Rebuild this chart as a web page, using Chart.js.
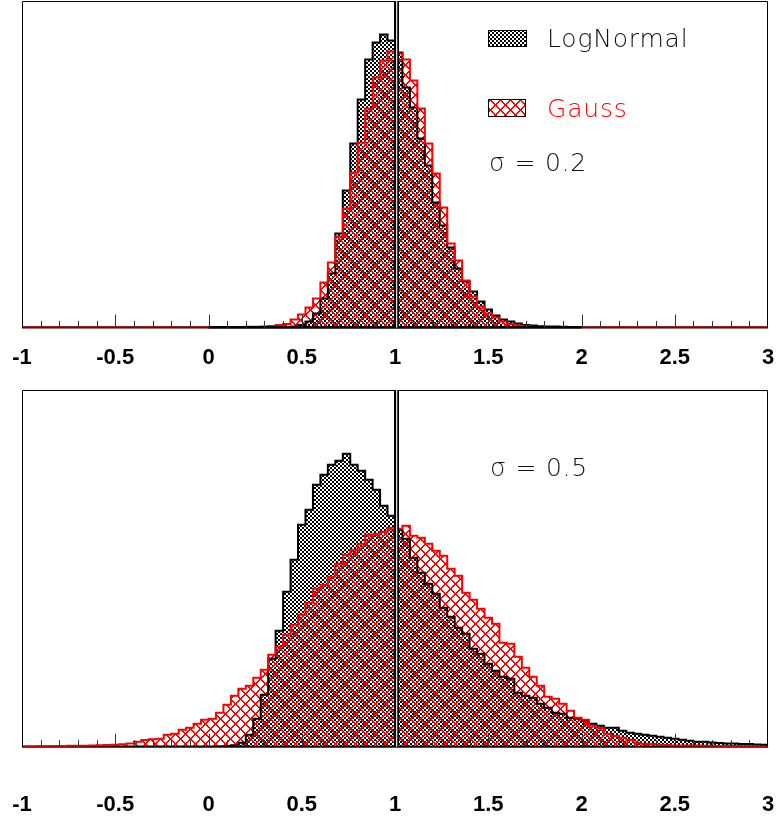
<!DOCTYPE html>
<html><head><meta charset="utf-8">
<script src="https://cdn.jsdelivr.net/npm/chart.js@4.4.1/dist/chart.umd.min.js"></script>
<style>
html,body{margin:0;padding:0;background:#fff;}
#wrap{position:relative;width:777px;height:819px;overflow:hidden;background:#fff;}
.pane{position:absolute;left:0;width:777px;}
.t{position:absolute;font-family:"DejaVu Sans";font-weight:200;font-size:25px;line-height:25px;white-space:nowrap;color:#111;letter-spacing:0.8px;}
</style></head><body>
<div id="wrap">
  <div class="pane" style="top:0;height:389px"><canvas id="c1" width="777" height="389"></canvas></div>
  <div class="pane" style="top:389px;height:430px"><canvas id="c2" width="777" height="430"></canvas></div>
  <div class="t" id="lg1" style="left:547px;top:26px"></div>
  <div class="t" id="lg2" style="left:547px;top:96px;color:#ff0000"></div>
  <div class="t" id="sg1" style="left:489px;top:149.5px"></div>
  <div class="t" id="sg2" style="left:490px;top:454.5px"></div>
</div>
<script>
// ---- data ----
const xMin = -1, xMax = 3, binWidth = 0.04;          // 100 bins
const tickLabels = ['-1','-0.5','0','0.5','1','1.5','2','2.5','3'];
const seriesNames = ['LogNormal','Gauss'];
const sigmaLabels = ['\u03C3 = 0.2','\u03C3 = 0.5'];

const logNormalTop = [
  0,0,0,0,0,0,0,0,0,0,
  0,0,0,0,0,0,0,0,0,0,
  0,0,0,0,0,0,0,0,0,0,
  0,0,0,0,0,0,1,2.5,6,14,
  29,54,94,137,184,228,268,285,293,287,
  275,240,220,189,162,125,102,80,59,46,
  36,26,18,12,8,6,4,2.5,2,1.3,
  1,1,0.7,0.5,0.3,0,0,0,0,0,
  0,0,0,0,0,0,0,0,0,0,
  0,0,0,0,0,0,0,0,0,0];
const gaussTop = [
  0,0,0,0,0,0,0,0,0,0,
  0,0,0,0,0,0,0,0,0,0,
  0,0,0,0,0,0,0,0,0,0.5,
  0.7,0.7,1,1.5,2.5,3.5,8,13,20,29,
  45,65,91,119,155,185,219,250,267,276,
  274,268,247,219,184,154,120,84,67,47,
  31,21,14,10,6,3.5,2.3,1.3,0.7,0.3,
  0,0,0,0,0,0,0,0,0,0,
  0,0,0,0,0,0,0,0,0,0,
  0,0,0,0,0,0,0,0,0,0];
const logNormalBottom = [
  0,0,0,0,0,0,0,0,0,0,
  0,0,0,0,0,0,0,0,0,0,
  0,0,0,0,0,0,0.3,0.7,1.5,4,
  12,28,52,88,116,155,187,222,237,262,
  272,282,286,293,282,276,267,257,241,231,
  217,208,189,174,163,153,139,130,119,113,
  98,93,83,76,70,68,54,51,49,43,
  39,34,33,29,28,26,23,21,19,19,
  16,14,13,12,11,10,9,8,7,6,
  5,5,4.3,3.7,3.3,3.3,2.7,2.7,2.3,2];
const gaussBottom = [
  0.3,0.3,0.5,0.5,0.7,0.7,1,1,1,1.3,
  1.5,1.7,2,2.5,3.3,5,6.7,7.5,8,12,
  13,17,19,23,27,28,34,42,51,58,
  61,69,77,92,100,112,122,132,144,158,
  162,170,183,192,197,203,212,213,215,219,
  218,221,211,209,203,196,191,178,171,154,
  147,138,129,123,104,103,90,79,70,61,
  50,48,43,36,29,27,21,19,13,11,
  9,7,4,3,2.7,2,1.7,1.3,1.3,1.3,
  1.3,1,1,0.7,0.7,0.7,0.5,0.5,0.3,0.3];

// ---- text ----
document.getElementById('lg1').textContent = seriesNames[0];
document.getElementById('lg2').textContent = seriesNames[1];
document.getElementById('sg1').textContent = sigmaLabels[0];
document.getElementById('sg2').textContent = sigmaLabels[1];

function histPoints(vals){
  const pts = [{x:xMin, y:0}];
  vals.forEach((v,i)=>{
    const a = xMin + i*binWidth, b = xMin + (i+1)*binWidth;
    pts.push({x:a, y:v}, {x:b, y:v});
  });
  pts.push({x:xMax, y:0});
  return pts;
}
function checkerPattern(ctx){
  const c = document.createElement('canvas'); c.width = 4; c.height = 4;
  const g = c.getContext('2d');
  g.fillStyle = '#fff'; g.fillRect(0,0,4,4);
  g.fillStyle = '#000'; g.fillRect(0,0,2,2); g.fillRect(2,2,2,2);
  return ctx.createPattern(c,'repeat');
}
function hatchPattern(ctx){
  const c = document.createElement('canvas'); c.width = 10; c.height = 10;
  const g = c.getContext('2d');
  g.fillStyle = '#ff0000';
  for (let k=0;k<10;k++){
    g.fillRect(k,k,1,1); g.fillRect((k+1)%10,k,1,1);
    g.fillRect(9-k,k,1,1); g.fillRect((10-k)%10,k,1,1);
  }
  return ctx.createPattern(c,'repeat');
}

function framePlugin(withLegend, pChecker, pHatch, blackBase){
  return {
    id:'rootFrame',
    beforeDatasetsDraw(chart){
      const {ctx, chartArea:a} = chart;
      ctx.save(); ctx.fillStyle = '#000';
      ctx.fillRect(a.left, a.bottom-1, a.right-a.left, 2);
      ctx.restore();
    },
    afterDatasetsDraw(chart){
      const {ctx, chartArea:a, scales:{x}} = chart;
      ctx.save();
      if (blackBase){
        const b0 = x.getPixelForValue(blackBase[0]), b1 = x.getPixelForValue(blackBase[1]);
        ctx.fillStyle = '#000'; ctx.fillRect(b0, a.bottom-1.5, b1-b0, 2.5);
      }
      ctx.strokeStyle = '#333'; ctx.lineWidth = 1;
      for (let k=1;k<40;k++){
        const v = xMin + k*0.1;
        const px = Math.round(x.getPixelForValue(v)) + 0.5;
        const len = (k%5===0) ? 13 : 6.5;
        ctx.beginPath(); ctx.moveTo(px, a.bottom); ctx.lineTo(px, a.bottom-len); ctx.stroke();
      }
      ctx.strokeStyle = '#000';
      ctx.beginPath();
      ctx.moveTo(a.left+0.5, a.bottom); ctx.lineTo(a.left+0.5, a.top+0.5);
      ctx.lineTo(a.right-0.5, a.top+0.5); ctx.lineTo(a.right-0.5, a.bottom);
      ctx.stroke();
      const p1 = x.getPixelForValue(1);
      ctx.fillStyle = '#000'; ctx.fillRect(p1-1, a.top, 5, a.bottom-a.top);
      ctx.fillStyle = '#ddd'; ctx.fillRect(p1+1, a.top, 1.3, a.bottom-a.top);
      if (withLegend){
        ctx.fillStyle = pChecker; ctx.fillRect(488,30,39,17);
        ctx.strokeStyle = '#000'; ctx.lineWidth = 1; ctx.strokeRect(488.5,30.5,38,16);
        ctx.fillStyle = '#fff'; ctx.fillRect(488,99,38,18);
        ctx.fillStyle = pHatch; ctx.fillRect(488,99,38,18);
        ctx.strokeRect(488.5,99.5,37,17);
      }
      ctx.restore();
    }
  };
}

function makeChart(id, lnVals, gVals, padTop, axisHeight, tickGap, yMax, withLegend, blackBase){
  const ctx = document.getElementById(id).getContext('2d');
  const pChecker = checkerPattern(ctx), pHatch = hatchPattern(ctx);
  return new Chart(ctx, {
    type:'line',
    data:{datasets:[
      {label:seriesNames[1], data:histPoints(gVals), borderColor:'#ff0000', borderWidth:2,
       backgroundColor:pHatch, fill:'origin', pointRadius:0, tension:0, order:1},
      {label:seriesNames[0], data:histPoints(lnVals), borderColor:'#000', borderWidth:2,
       backgroundColor:pChecker, fill:'origin', pointRadius:0, tension:0, order:2}
    ]},
    options:{
      responsive:false, animation:false, events:[],
      layout:{padding:{left:22, right:9, top:padTop, bottom:0}},
      plugins:{legend:{display:false}, tooltip:{enabled:false}, filler:{drawTime:'beforeDatasetsDraw'}},
      scales:{
        x:{type:'linear', min:xMin, max:xMax,
           grid:{display:false, drawTicks:true, tickLength:tickGap}, border:{display:false},
           ticks:{stepSize:0.5, autoSkip:false, maxRotation:0, minRotation:0, padding:0, color:'#000',
                  font:{family:'Liberation Sans', weight:'bold', size:22},
                  callback:(v)=>tickLabels[Math.round((v-xMin)*2)]},
           afterFit:(s)=>{ s.height = axisHeight; s.paddingLeft = 0; s.paddingRight = 0; }},
        y:{display:false, min:0, max:yMax}
      }
    },
    plugins:[framePlugin(withLegend, pChecker, pHatch, blackBase)]
  });
}

// top pane: frame 1..327.5, labels centred ~357
makeChart('c1', logNormalTop, gaussTop, 1, 61.5, 17.5, 326.5, true, [0, 2]);
// bottom pane (canvas starts at 389): frame 390..746.7, labels centred ~804
makeChart('c2', logNormalBottom, gaussBottom, 1, 72.3, 45.5, 356.7, false, null);
</script>
</body></html>
